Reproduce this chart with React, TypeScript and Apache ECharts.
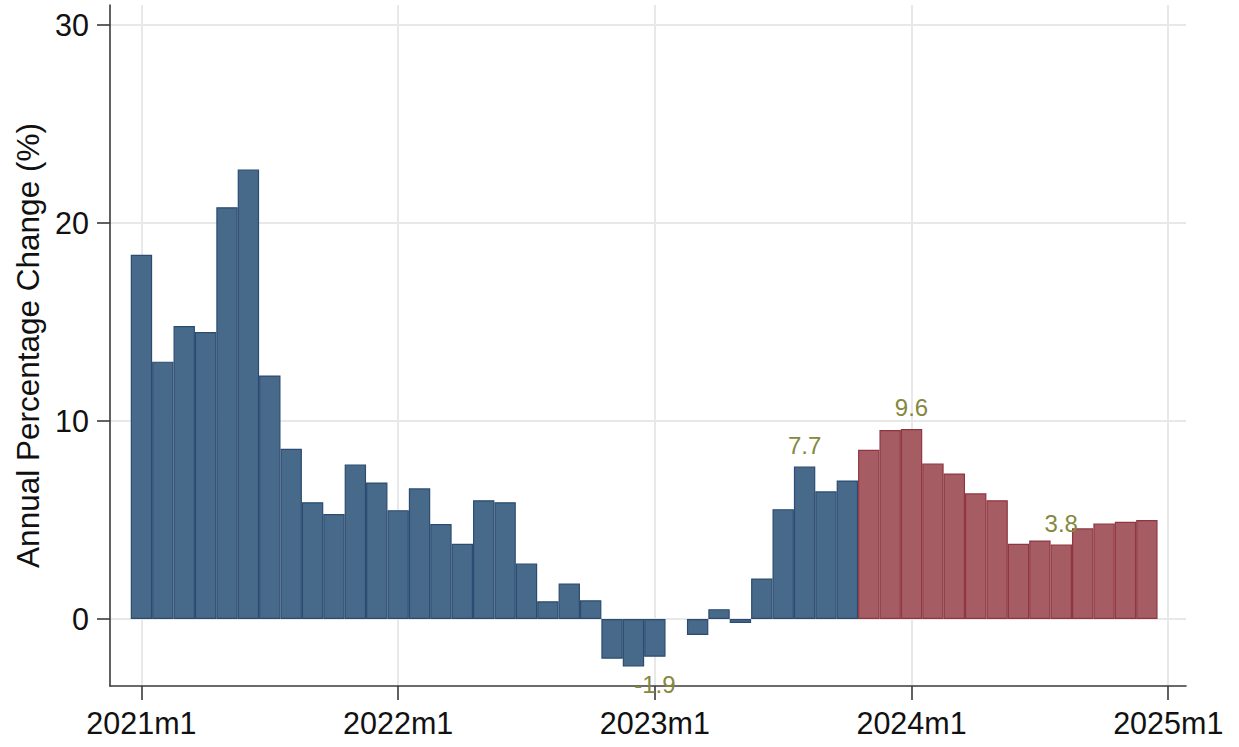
import React, { useEffect, useRef } from "react";
import * as echarts from "echarts";

// Monthly index 0 = 2021m1 ... 47 = 2024m12
const historicalValues: (number | null)[] = [
  18.4, 13.0, 14.8, 14.5, 20.8, 22.7, 12.3, 8.6, 5.9, 5.3, 7.8, 6.9,
  5.5, 6.6, 4.8, 3.8, 6.0, 5.9, 2.8, 0.9, 1.8, 0.95, -2.0, -2.4,
  -1.9, null, -0.8, 0.5, -0.2, 2.05, 5.55, 7.7, 6.45, 7.0,
];
const forecastValues: number[] = [
  8.55, 9.55, 9.6, 7.85, 7.35, 6.35, 6.0, 3.8, 3.97, 3.76, 4.58, 4.83, 4.91, 5.0,
];
const annotatedIndexes: number[] = [24, 31, 36, 43];
const xTickPositions: number[] = [0, 12, 24, 36, 48];
const xTickLabels: string[] = ["2021m1", "2022m1", "2023m1", "2024m1", "2025m1"];
const yTickValues: number[] = [0, 10, 20, 30];
const yAxisTitle = "Annual Percentage Change (%)";

const BLUE_FILL = "#476a8b";
const BLUE_BORDER = "#2b4c70";
const RED_FILL = "#a65c63";
const RED_BORDER = "#903643";
const LABEL_COLOR = "#85883f";
const FONT = "'Liberation Sans', Arial, sans-serif";

export default function App() {
  const ref = useRef<HTMLDivElement>(null);

  useEffect(() => {
    if (!ref.current) return;
    const chart = echarts.init(ref.current, undefined, { renderer: "svg" });

    const allValues = [...historicalValues, ...forecastValues];
    const nHist = historicalValues.length;

    const data = allValues.map((v, i) => {
      const isHist = i < nHist;
      const annotated = annotatedIndexes.includes(i) && v !== null;
      const neg = v !== null && v < 0;
      return {
        value: [i, v],
        itemStyle: {
          color: isHist ? BLUE_FILL : RED_FILL,
          borderColor: isHist ? BLUE_BORDER : RED_BORDER,
          borderWidth: 1.2,
        },
        label: {
          show: annotated,
          position: neg ? "bottom" : "top",
          distance: neg ? 16 : 9,
          color: LABEL_COLOR,
          fontSize: 24,
          fontFamily: FONT,
          formatter: () => (v === null ? "" : v.toFixed(1)),
        },
      };
    });

    chart.setOption({
      animation: false,
      backgroundColor: "#ffffff",
      grid: {
        left: 110,
        right: 53,
        top: 5,
        bottom: 61,
        containLabel: false,
        outerBoundsMode: "none",
      },
      xAxis: {
        type: "value",
        min: -1.47,
        max: 48.83,
        axisLine: { show: true, onZero: false, lineStyle: { color: "#3a3a3a", width: 1.6 } },
        axisTick: {
          show: true,
          customValues: xTickPositions,
          length: 14,
          lineStyle: { color: "#3a3a3a", width: 1.6 },
        },
        axisLabel: {
          customValues: xTickPositions,
          margin: 21,
          fontSize: 30.5,
          color: "#111111",
          fontFamily: FONT,
          formatter: (val: number) => {
            const k = xTickPositions.indexOf(Math.round(val));
            return k >= 0 ? xTickLabels[k] : "";
          },
        },
        splitLine: { show: true, lineStyle: { color: "#e8e8e8", width: 2 } },
      },
      yAxis: {
        type: "value",
        min: -3.38,
        max: 31.01,
        name: yAxisTitle,
        nameLocation: "middle",
        nameGap: 65,
        nameRotate: 90,
        nameTextStyle: { fontSize: 31.5, color: "#111111", fontFamily: FONT },
        axisLine: { show: true, onZero: false, lineStyle: { color: "#3a3a3a", width: 1.6 } },
        axisTick: {
          show: true,
          customValues: yTickValues,
          length: 13,
          lineStyle: { color: "#3a3a3a", width: 1.6 },
        },
        axisLabel: {
          customValues: yTickValues,
          margin: 21,
          fontSize: 30.5,
          color: "#111111",
          fontFamily: FONT,
        },
        splitLine: { show: true, lineStyle: { color: "#e8e8e8", width: 2 } },
      },
      series: [
        {
          type: "bar",
          barWidth: 21.4,
          data,
          z: 10,
          clip: false,
        },
      ],
    });

    return () => chart.dispose();
  }, []);

  return (
    <div
      ref={ref}
      style={{ position: "absolute", left: 0, top: 0, width: 1239, height: 747, background: "#fff" }}
    />
  );
}
